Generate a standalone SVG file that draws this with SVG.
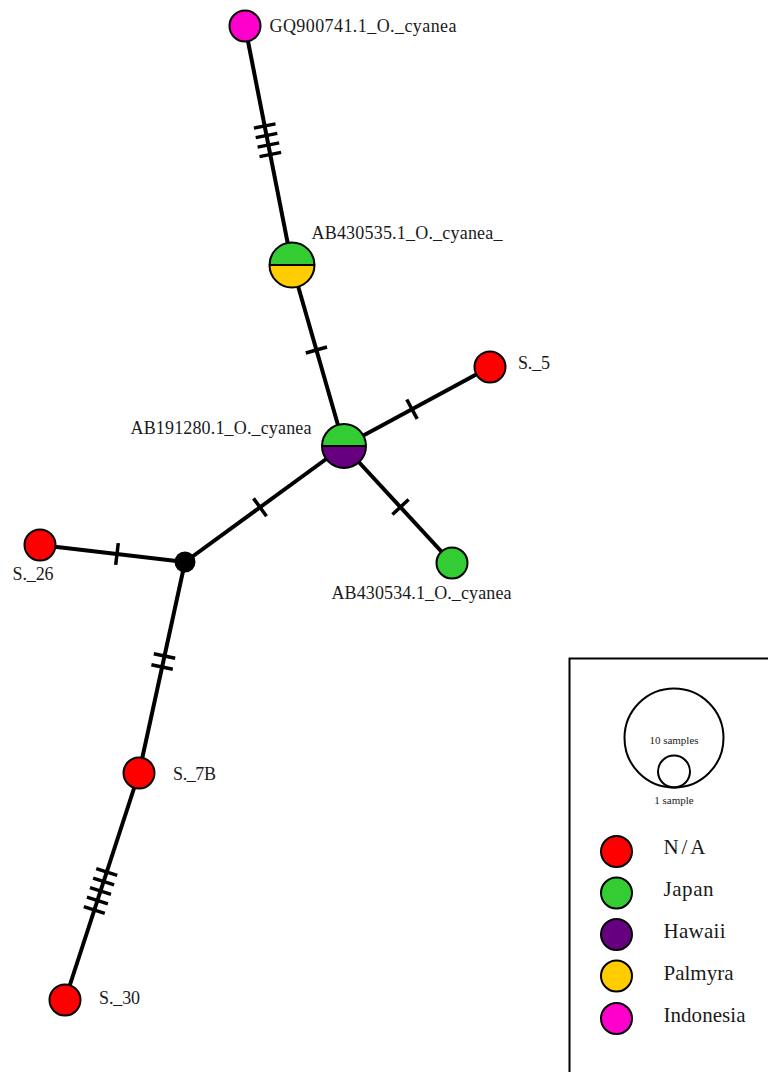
<svg xmlns="http://www.w3.org/2000/svg" width="768" height="1072" viewBox="0 0 768 1072">
<style>
.e{stroke:#000;stroke-width:4;fill:none}
.h{stroke:#000;stroke-width:3.5;fill:none}
.n{stroke:#000;stroke-width:2}
.lbl{font-family:"Liberation Serif","Times New Roman",serif;font-size:18px;fill:#1a1a1a}
.leg{font-family:"Liberation Serif","Times New Roman",serif;font-size:21px;fill:#1a1a1a}
.sm{font-family:"Liberation Serif","Times New Roman",serif;font-size:11px;fill:#1a1a1a;text-anchor:middle}
.red{fill:#FF0000}.grn{fill:#33CC33}.pur{fill:#660080}.yel{fill:#FFCC00}.mag{fill:#FF00CC}
</style>
<rect width="768" height="1072" fill="#fff"/>
<g id="connectors">
<line class="e" x1="245" y1="26" x2="292" y2="265"/>
<line class="e" x1="292" y1="265" x2="344" y2="446"/>
<line class="e" x1="344" y1="446" x2="490" y2="367"/>
<line class="e" x1="344" y1="446" x2="452" y2="563"/>
<line class="e" x1="344" y1="446" x2="185" y2="562"/>
<line class="e" x1="185" y1="562" x2="40" y2="545"/>
<line class="e" x1="185" y1="562" x2="139" y2="773"/>
<line class="e" x1="139" y1="773" x2="65" y2="1000"/>
<line class="h" x1="253.9" y1="128.1" x2="275.5" y2="123.9"/>
<line class="h" x1="255.7" y1="137.6" x2="277.3" y2="133.4"/>
<line class="h" x1="257.6" y1="147.1" x2="279.2" y2="142.9"/>
<line class="h" x1="259.5" y1="156.6" x2="281.1" y2="152.4"/>
<line class="h" x1="305.8" y1="353" x2="327" y2="347"/>
<line class="h" x1="406.8" y1="399.5" x2="417.2" y2="418.9"/>
<line class="h" x1="392.4" y1="514.5" x2="408.6" y2="499.5"/>
<line class="h" x1="253.5" y1="498.4" x2="266.5" y2="516.2"/>
<line class="h" x1="115.7" y1="564.9" x2="118.3" y2="543.1"/>
<line class="h" x1="153.8" y1="653.7" x2="175.2" y2="658.3"/>
<line class="h" x1="151.4" y1="664.7" x2="172.8" y2="669.3"/>
<line class="h" x1="96.2" y1="868.6" x2="117.2" y2="875.4"/>
<line class="h" x1="93.1" y1="878.1" x2="114.1" y2="884.9"/>
<line class="h" x1="90" y1="887.6" x2="111" y2="894.4"/>
<line class="h" x1="86.9" y1="897.1" x2="107.9" y2="903.9"/>
<line class="h" x1="83.8" y1="906.6" x2="104.8" y2="913.4"/>
</g>
<g id="GQ900741">
<circle class="n mag" cx="245" cy="26" r="15.5"/>
<text class="lbl" x="269.5" y="32" textLength="187">GQ900741.1_O._cyanea</text>
</g>
<g id="AB430535">
<path class="grn" d="M269.5 265 A22.5 22.5 0 0 1 314.5 265 Z"/>
<path class="yel" d="M269.5 265 A22.5 22.5 0 0 0 314.5 265 Z"/>
<circle cx="292" cy="265" r="22.5" fill="none" stroke="#000" stroke-width="2"/>
<line x1="269.5" y1="265" x2="314.5" y2="265" stroke="#000" stroke-width="2"/>
<text class="lbl" x="311.5" y="238.5" textLength="191">AB430535.1_O._cyanea_</text>
</g>
<g id="AB191280">
<path class="grn" d="M322 446 A22 22 0 0 1 366 446 Z"/>
<path class="pur" d="M322 446 A22 22 0 0 0 366 446 Z"/>
<circle cx="344" cy="446" r="22" fill="none" stroke="#000" stroke-width="2"/>
<line x1="322" y1="446" x2="366" y2="446" stroke="#000" stroke-width="2"/>
<text class="lbl" x="130.5" y="434" textLength="181">AB191280.1_O._cyanea</text>
</g>
<g id="S5">
<circle class="n red" cx="490" cy="367" r="15.5"/>
<text class="lbl" x="518" y="369" textLength="32">S._5</text>
</g>
<g id="AB430534">
<circle class="n grn" cx="452" cy="563" r="15.5"/>
<text class="lbl" x="331.5" y="598.5" textLength="180">AB430534.1_O._cyanea</text>
</g>
<g id="median">
<circle cx="185" cy="562" r="10.5" fill="#000"/>
</g>
<g id="S26">
<circle class="n red" cx="40" cy="545" r="15.5"/>
<text class="lbl" x="12.5" y="580" textLength="41">S._26</text>
</g>
<g id="S7B">
<circle class="n red" cx="139" cy="773" r="15.5"/>
<text class="lbl" x="173" y="779.5" textLength="43">S._7B</text>
</g>
<g id="S30">
<circle class="n red" cx="65" cy="1000" r="15.5"/>
<text class="lbl" x="99" y="1003.5" textLength="41">S._30</text>
</g>
<g id="legend">
<path d="M569.5 1072 V658.5 H768" fill="none" stroke="#000" stroke-width="2"/>
<circle cx="674" cy="738" r="49.5" fill="none" stroke="#000" stroke-width="2"/>
<circle cx="674" cy="771.5" r="16" fill="none" stroke="#000" stroke-width="2"/>
<text class="sm" x="674" y="744">10 samples</text>
<text class="sm" x="674" y="803.5">1 sample</text>
<circle class="n red" cx="616.5" cy="851.5" r="15.5" stroke-width="1"/>
<circle class="n grn" cx="616.5" cy="893" r="15.5" stroke-width="1"/>
<circle class="n pur" cx="616.5" cy="934.5" r="15.5" stroke-width="1"/>
<circle class="n yel" cx="616.5" cy="976" r="15.5" stroke-width="1"/>
<circle class="n mag" cx="616.5" cy="1018.5" r="15.5" stroke-width="1"/>
<text class="leg" x="663.5" y="853.5" textLength="42">N/A</text>
<text class="leg" x="663.5" y="895.5" textLength="50">Japan</text>
<text class="leg" x="663.5" y="938" textLength="62">Hawaii</text>
<text class="leg" x="663.5" y="979.5" textLength="70">Palmyra</text>
<text class="leg" x="663.5" y="1021.5" textLength="82">Indonesia</text>
</g>
</svg>
